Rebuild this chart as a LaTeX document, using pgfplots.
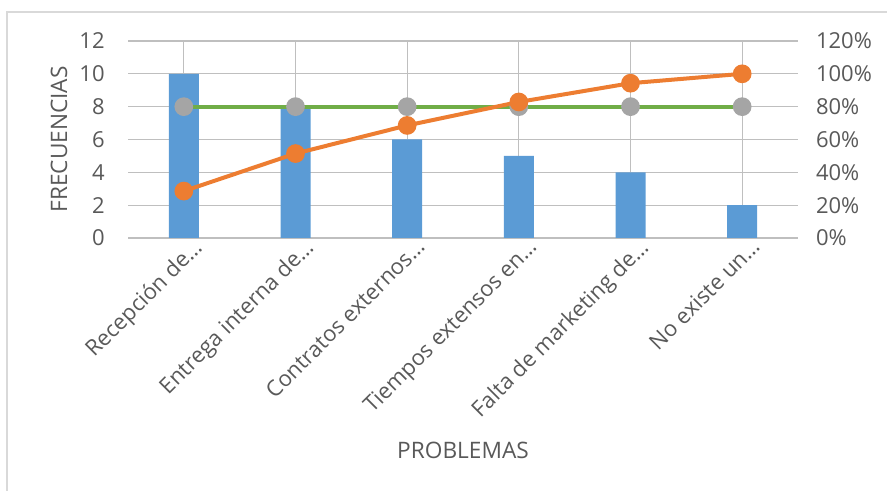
\documentclass[border=0pt]{standalone}
\usepackage{pgfplots}
\pgfplotsset{compat=1.18}
\usepackage{fontspec}
\setmainfont{Open Sans}
\definecolor{barblue}{HTML}{5B9BD5}
\definecolor{orng}{HTML}{ED7D31}
\definecolor{grn}{HTML}{70AD47}
\definecolor{gry}{HTML}{A5A5A5}
\definecolor{txt}{HTML}{595959}
\definecolor{grid}{HTML}{D9D9D9}
\begin{document}
\begin{tikzpicture}
\path[use as bounding box] (0pt,0pt) rectangle (665.25pt,368.25pt);
\draw[draw=grid, line width=1.2pt] (5.25pt,0pt) -- (5.25pt,359.25pt) -- (665.25pt,359.25pt);
\begin{axis}[
  at={(96pt,189.75pt)}, anchor=south west, scale only axis,
  width=502.5pt, height=147.75pt,
  xmin=-0.5, xmax=5.5, ymin=0, ymax=12,
  axis line style={draw=none}, tick style={draw=none},
  ymajorgrids, grid style={grid, line width=0.9pt},
  ytick={0,2,4,6,8,10,12}, yticklabels={0,2,4,6,8,10,12},
  xtick={0,1,2,3,4,5},
  xticklabels={Recepción de…, Entrega interna de…, Contratos externos…, Tiempos extensos en…, Falta de marketing de…, No existe un…},
  ticklabel style={font=\fontsize{16.5}{19}\selectfont, text=txt},
  yticklabel style={xshift=-14pt},
  xticklabel style={rotate=45, anchor=north east, xshift=8pt, yshift=0pt},
  ylabel={FRECUENCIAS}, xlabel={PROBLEMAS},
  label style={font=\fontsize{17}{20}\selectfont, text=txt},
  ylabel style={at={(axis description cs:-0.103,0.5)}, anchor=center},
  xlabel style={at={(axis description cs:0.5,-1.076)}, anchor=center},
  clip=false,
]
\addplot[ybar, bar width=22.5pt, fill=barblue, draw=none] coordinates {(0,10) (1,8) (2,6) (3,5) (4,4) (5,2)};
\end{axis}
\begin{axis}[
  at={(96pt,189.75pt)}, anchor=south west, scale only axis,
  width=502.5pt, height=147.75pt,
  xmin=-0.5, xmax=5.5, ymin=0, ymax=1.2,
  axis line style={draw=none}, tick style={draw=none},
  xtick=\empty,
  axis y line*=right,
  ytick={0,0.2,0.4,0.6,0.8,1.0,1.2},
  yticklabels={0\%,20\%,40\%,60\%,80\%,100\%,120\%},
  yticklabel style={font=\fontsize{16.5}{19}\selectfont, text=txt, anchor=west, xshift=10pt},
  clip=false,
]
\addplot[grn, line width=3pt, mark=*, mark size=5.5pt, mark options={fill=gry, draw=gry}] coordinates {(0,0.8) (1,0.8) (2,0.8) (3,0.8) (4,0.8) (5,0.8)};
\addplot[orng, line width=3pt, mark=*, mark size=5.5pt, mark options={fill=orng, draw=orng}] coordinates {(0,0.2857) (1,0.5143) (2,0.6857) (3,0.8286) (4,0.9429) (5,1.0)};
\end{axis}
\end{tikzpicture}
\end{document}
